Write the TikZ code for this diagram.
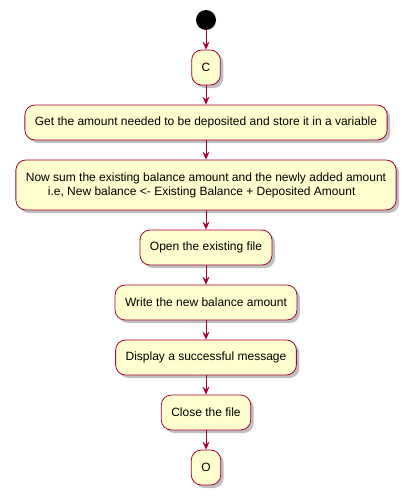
\documentclass[tikz,border=0pt]{standalone}
\usepackage{fontspec}
\setmainfont{Liberation Sans}
\usetikzlibrary{arrows.meta,shadows}
\definecolor{umlred}{HTML}{A80036}
\definecolor{umlfill}{HTML}{FEFECE}
\tikzset{
  act/.style={draw=umlred, fill=umlfill, thick, rounded corners=10pt, minimum height=35pt,
    inner xsep=10pt, font=\fontsize{12}{14}\selectfont,
    drop shadow={shadow xshift=3pt, shadow yshift=-3pt, opacity=0.25, fill=black}},
  flow/.style={umlred, thick, -{Stealth[length=8pt, width=7pt, inset=3pt]}}
}
\begin{document}
\begin{tikzpicture}[x=1pt, y=-1pt]
\useasboundingbox (0,0) rectangle (418,501);

%start point
\node [circle, fill=black, minimum size=20pt, inner sep=0pt] (start) at (206,20) {};

%activities
\node [act] (c) at (206,67.5) {C};
\node [act] (getamount) at (206,122.5) {Get the amount needed to be deposited and store it in a variable};
\node [act, minimum height=50pt, align=left] (sum) at (206,185)
  {Now sum the existing balance amount and the newly added amount\\
   \hspace*{22pt}i.e, New balance <- Existing Balance + Deposited Amount};
\node [act] (open) at (206,247.5) {Open the existing file};
\node [act] (write) at (206,302.5) {Write the new balance amount};
\node [act] (display) at (206,357.5) {Display a successful message};
\node [act] (close) at (206,412.5) {Close the file};
\node [act] (o) at (206,467.5) {O};

%arrows
\draw [flow] (start) -- (c);
\draw [flow] (c) -- (getamount);
\draw [flow] (getamount) -- (sum);
\draw [flow] (sum) -- (open);
\draw [flow] (open) -- (write);
\draw [flow] (write) -- (display);
\draw [flow] (display) -- (close);
\draw [flow] (close) -- (o);

\end{tikzpicture}
\end{document}
